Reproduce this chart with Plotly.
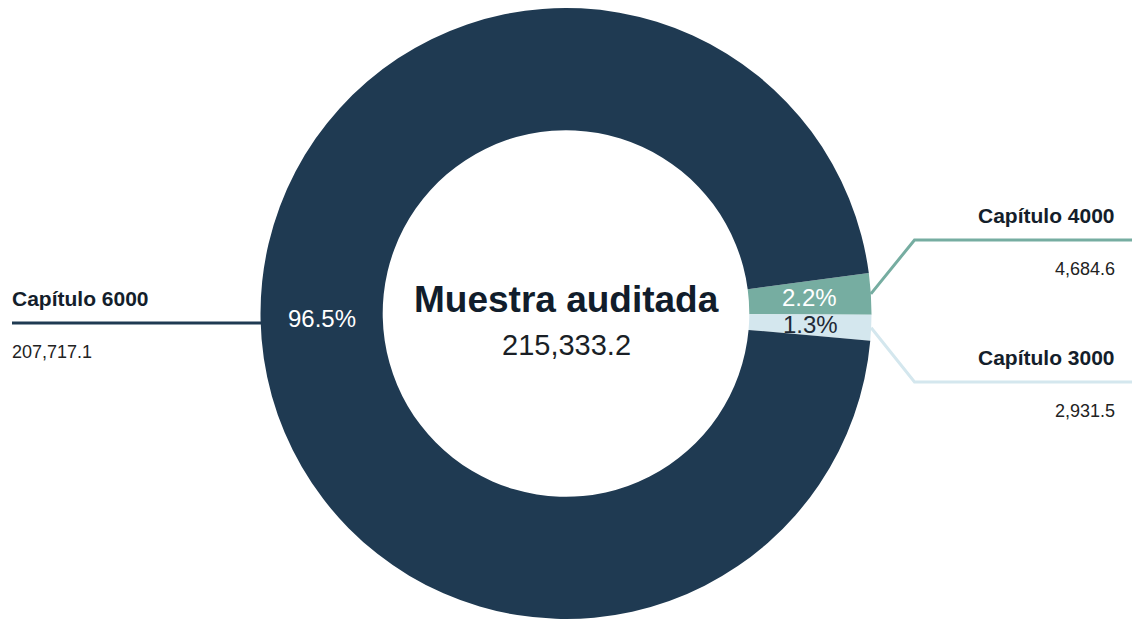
import math
import plotly.graph_objects as go

# ---- data ----
categories = ["Capítulo 4000", "Capítulo 3000", "Capítulo 6000"]
values = [4684.6, 2931.5, 207717.1]
value_labels = ["4,684.6", "2,931.5", "207,717.1"]
percent_labels = ["2.2%", "1.3%", "96.5%"]
center_title = "Muestra auditada"
center_total = "215,333.2"

colors = ["#76ada1", "#d4e7ee", "#1f3a52"]
pct_text_colors = ["#ffffff", "#1f2a36", "#ffffff"]

W, H = 1132, 619
TOP = 8
HOLE = 0.6
ROTATION = 82.4

fig = go.Figure()
fig.add_trace(go.Pie(
    labels=categories, values=values, hole=HOLE, sort=False,
    direction="clockwise", rotation=ROTATION,
    marker=dict(colors=colors, line=dict(width=0)),
    textinfo="none", showlegend=False,
    domain=dict(x=[0, 1], y=[0, (H - TOP) / H]),
    hoverinfo="label+value+percent",
))

# geometry (pixels), derived from the pie domain
R = (H - TOP) / 2
cx, cy = W / 2, TOP + R
rmid = R * (1 + HOLE) / 2
total = sum(values)
theta0 = 90 - ROTATION
mids = []
cum = 0
for v in values:
    f = v / total
    mids.append(theta0 - 360 * (cum + f / 2))
    cum += f

def pt(r, ang):
    a = math.radians(ang)
    return cx + r * math.cos(a), cy - r * math.sin(a)

ann = []
# percentage labels
for i, p in enumerate(percent_labels):
    x, y = pt(rmid, mids[i])
    ann.append(dict(x=x, y=y, xref="x", yref="y", text=p, showarrow=False,
                    font=dict(size=24, color=pct_text_colors[i])))

# center text
ann.append(dict(x=cx, y=cy - 14, xref="x", yref="y", text="<b>" + center_title + "</b>",
                showarrow=False, font=dict(size=37, color="#111d2b")))
ann.append(dict(x=cx, y=cy + 31, xref="x", yref="y", text=center_total,
                showarrow=False, font=dict(size=29, color="#1a1f26")))

# leader lines + outside labels
elbow_x = cx + R + 43
line_specs = [
    # (index, elbow y, side)
    (0, 240, "right"),
    (1, 382, "right"),
    (2, 323, "left"),
]
for idx, ly, side in line_specs:
    sx, sy = pt(R, mids[idx])
    if side == "right":
        xs = [sx, elbow_x, W]
        ys = [sy, ly, ly]
        tx, anchor = W - 15, "right"
    else:
        xs = [12, cx - R + 5]
        ys = [ly, ly]
        tx, anchor = 10, "left"
    fig.add_trace(go.Scatter(x=xs, y=ys, mode="lines", line=dict(color=colors[idx], width=3),
                             hoverinfo="skip", showlegend=False))
    ann.append(dict(x=tx, y=ly - 25, xref="x", yref="y", xanchor=anchor,
                    text="<b>" + categories[idx] + "</b>", showarrow=False,
                    font=dict(size=21, color="#141e2b")))
    ann.append(dict(x=tx, y=ly + 29, xref="x", yref="y", xanchor=anchor,
                    text=value_labels[idx], showarrow=False,
                    font=dict(size=18, color="#222222")))

fig.update_layout(
    width=W, height=H,
    margin=dict(l=0, r=0, t=0, b=0),
    paper_bgcolor="white", plot_bgcolor="rgba(0,0,0,0)",
    font=dict(family="Arial, Liberation Sans, sans-serif"),
    xaxis=dict(range=[0, W], visible=False, fixedrange=True),
    yaxis=dict(range=[H, 0], visible=False, fixedrange=True),
    annotations=ann,
)
fig.write_html("out.html", config={"displayModeBar": False},
               post_script="document.body.style.margin='0';")
